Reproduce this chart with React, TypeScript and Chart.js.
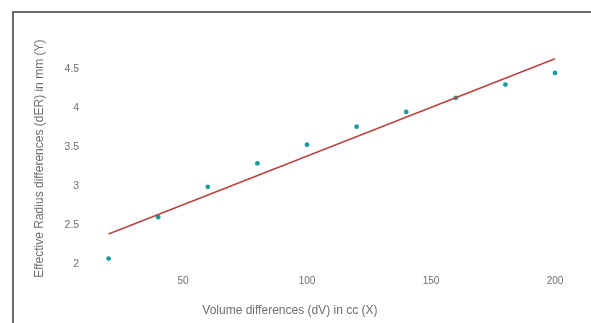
import React, { useEffect, useRef } from "react";
import { Chart, registerables } from "chart.js";

Chart.register(...registerables);

const volumeDiff = [20, 40, 60, 80, 100, 120, 140, 160, 180, 200];
const radiusDiff = [2.07, 2.6, 2.99, 3.29, 3.53, 3.76, 3.95, 4.13, 4.3, 4.45];
const fitX = [20, 200];
const fitY = [2.385, 4.63];
const xTicks = [50, 100, 150, 200];
const yTicks = [2, 2.5, 3, 3.5, 4, 4.5];

export default function App() {
  const ref = useRef<HTMLCanvasElement | null>(null);
  useEffect(() => {
    if (!ref.current) return;
    const textColor = "#6e6e6e";
    const chart = new Chart(ref.current, {
      type: "scatter",
      data: {
        datasets: [
          {
            type: "line",
            data: fitX.map((x, i) => ({ x, y: fitY[i] })),
            borderColor: "#ba4243",
            borderWidth: 1.6,
            pointRadius: 0,
            fill: false,
          },
          {
            data: volumeDiff.map((x, i) => ({ x, y: radiusDiff[i] })),
            backgroundColor: "#189e9b",
            borderColor: "#189e9b",
            pointRadius: 2.4,
            pointBorderWidth: 0,
          },
        ],
      },
      options: {
        animation: false,
        responsive: false,
        layout: { padding: { top: 45.6, right: 11.2, bottom: 5, left: 0 } },
        plugins: {
          legend: { display: false },
          tooltip: { enabled: false },
          title: {
            display: true,
            position: "bottom",
            text: "Volume differences (dV) in cc (X)",
            color: textColor,
            font: { family: "Arial, Liberation Sans", size: 12, weight: "normal" },
            padding: { top: 0, bottom: 0 },
          },
        },
        scales: {
          x: {
            type: "linear",
            min: 15,
            max: 210,
            grid: { display: false, drawTicks: false },
            border: { display: false },
            afterBuildTicks: (s: any) => {
              s.ticks = xTicks.map((v) => ({ value: v }));
            },
            afterFit: (s: any) => {
              s.height = 31.8;
            },
            ticks: {
              color: textColor,
              padding: 3,
              font: { family: "Arial, Liberation Sans", size: 10 },
              maxRotation: 0,
              callback: (v: any) => String(v),
            },
          },
          y: {
            type: "linear",
            min: 1.9,
            max: 4.8,
            grid: { display: false, drawTicks: false },
            border: { display: false },
            afterBuildTicks: (s: any) => {
              s.ticks = yTicks.map((v) => ({ value: v }));
            },
            afterFit: (s: any) => {
              s.width = 96.2;
            },
            ticks: {
              color: textColor,
              padding: 17,
              font: { family: "Arial, Liberation Sans", size: 10.5 },
              callback: (v: any) => String(v),
            },
            title: {
              display: true,
              text: "Effective Radius differences (dER) in mm (Y)",
              color: textColor,
              font: { family: "Arial, Liberation Sans", size: 12, weight: "normal" },
              padding: { top: 32, bottom: 0 },
            },
          },
        },
      },
    } as any);
    return () => chart.destroy();
  }, []);
  return (
    <div style={{ position: "fixed", left: 0, top: 0, width: 591, height: 323, background: "#fff", overflow: "hidden" }}>
      <div
        style={{
          position: "absolute",
          left: 12,
          top: 11,
          width: 700,
          height: 400,
          borderLeft: "2px solid #6a6a6a",
          borderTop: "2px solid #6a6a6a",
        }}
      />
      <canvas ref={ref} width={591} height={323} style={{ position: "absolute", left: 0, top: 0 }} />
    </div>
  );
}
